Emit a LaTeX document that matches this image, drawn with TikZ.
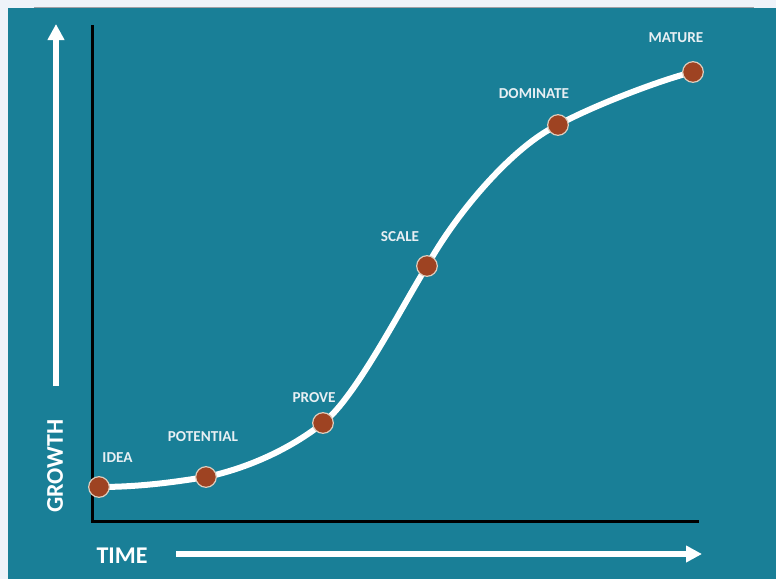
\documentclass[tikz,border=0pt]{standalone}
\usepackage{fontspec}
\setmainfont{Carlito}
\usetikzlibrary{arrows.meta}

\definecolor{pageback}{RGB}{238,243,249}
\definecolor{slideteal}{RGB}{25,127,151}
\definecolor{dotbrown}{RGB}{158,67,34}
\definecolor{dotrim}{RGB}{222,206,190}
\definecolor{labelgrey}{RGB}{232,239,243}

\tikzset{every picture/.style={line width=0.75pt}}
\tikzset{
  axis line/.style={draw=black, line width=2.25pt},
  white arrow/.style={draw=white, line width=4.5pt, -{Triangle[length=12pt,width=12pt]}},
  growth curve/.style={draw=white, line width=4.5pt, line cap=round},
  stage dot/.style={circle, fill=dotbrown, draw=dotrim, line width=0.9pt, minimum size=15.5pt, inner sep=0pt},
  stage label/.style={text=labelgrey, font=\bfseries\fontsize{11.4}{13}\selectfont, inner sep=0pt},
  axis title/.style={text=white, font=\bfseries\fontsize{18}{20}\selectfont, inner sep=0pt}
}

\begin{document}
\begin{tikzpicture}[x=0.75pt,y=0.75pt,yscale=-1,xscale=1]
%Shape: Rectangle [id:page]
\fill[pageback] (0,0) rectangle (776,579);
%Shape: Rectangle [id:slide]
\fill[slideteal] (8,8) rectangle (776,579);
%Straight Lines [id:topedge]
\draw[color={rgb,255:red,160;green,160;blue,165}, line width=0.9pt] (34,7.6) -- (754,7.6);

%Axes
\draw[axis line] (92,25) -- (92,521) -- (699,521);
%Arrows
\draw[white arrow] (56,386) -- (56,24);
\draw[white arrow] (176,554) -- (702,554);

%Axis titles
\node[axis title, rotate=90] (growth) at (55,466) {GROWTH};
\node[axis title] (time) at (122,556) {TIME};

%Stage points
\coordinate (idea) at (99,487);
\coordinate (potential) at (206,477);
\coordinate (prove) at (323,423);
\coordinate (scale) at (427,266);
\coordinate (dominate) at (558,125);
\coordinate (mature) at (693,72);

%Curve Lines [id:scurve]
\draw[growth curve] (idea) .. controls (140,487) and (175,482) .. (potential)
  .. controls (240,470) and (285,453) .. (prove)
  .. controls (355,398) and (400,310) .. (scale)
  .. controls (458,210) and (515,145) .. (dominate)
  .. controls (590,107) and (660,80) .. (mature);

%Dots
\foreach \stage in {idea,potential,prove,scale,dominate,mature}
  \node[stage dot] (\stage dot) at (\stage) {};

%Labels
\node[stage label] (idealabel) at (117.5,458) {IDEA};
\node[stage label] (potentiallabel) at (203,437) {POTENTIAL};
\node[stage label] (provelabel) at (314,398) {PROVE};
\node[stage label] (scalelabel) at (400,237) {SCALE};
\node[stage label] (dominatelabel) at (534,94) {DOMINATE};
\node[stage label] (maturelabel) at (676,38) {MATURE};

\end{tikzpicture}
\end{document}
